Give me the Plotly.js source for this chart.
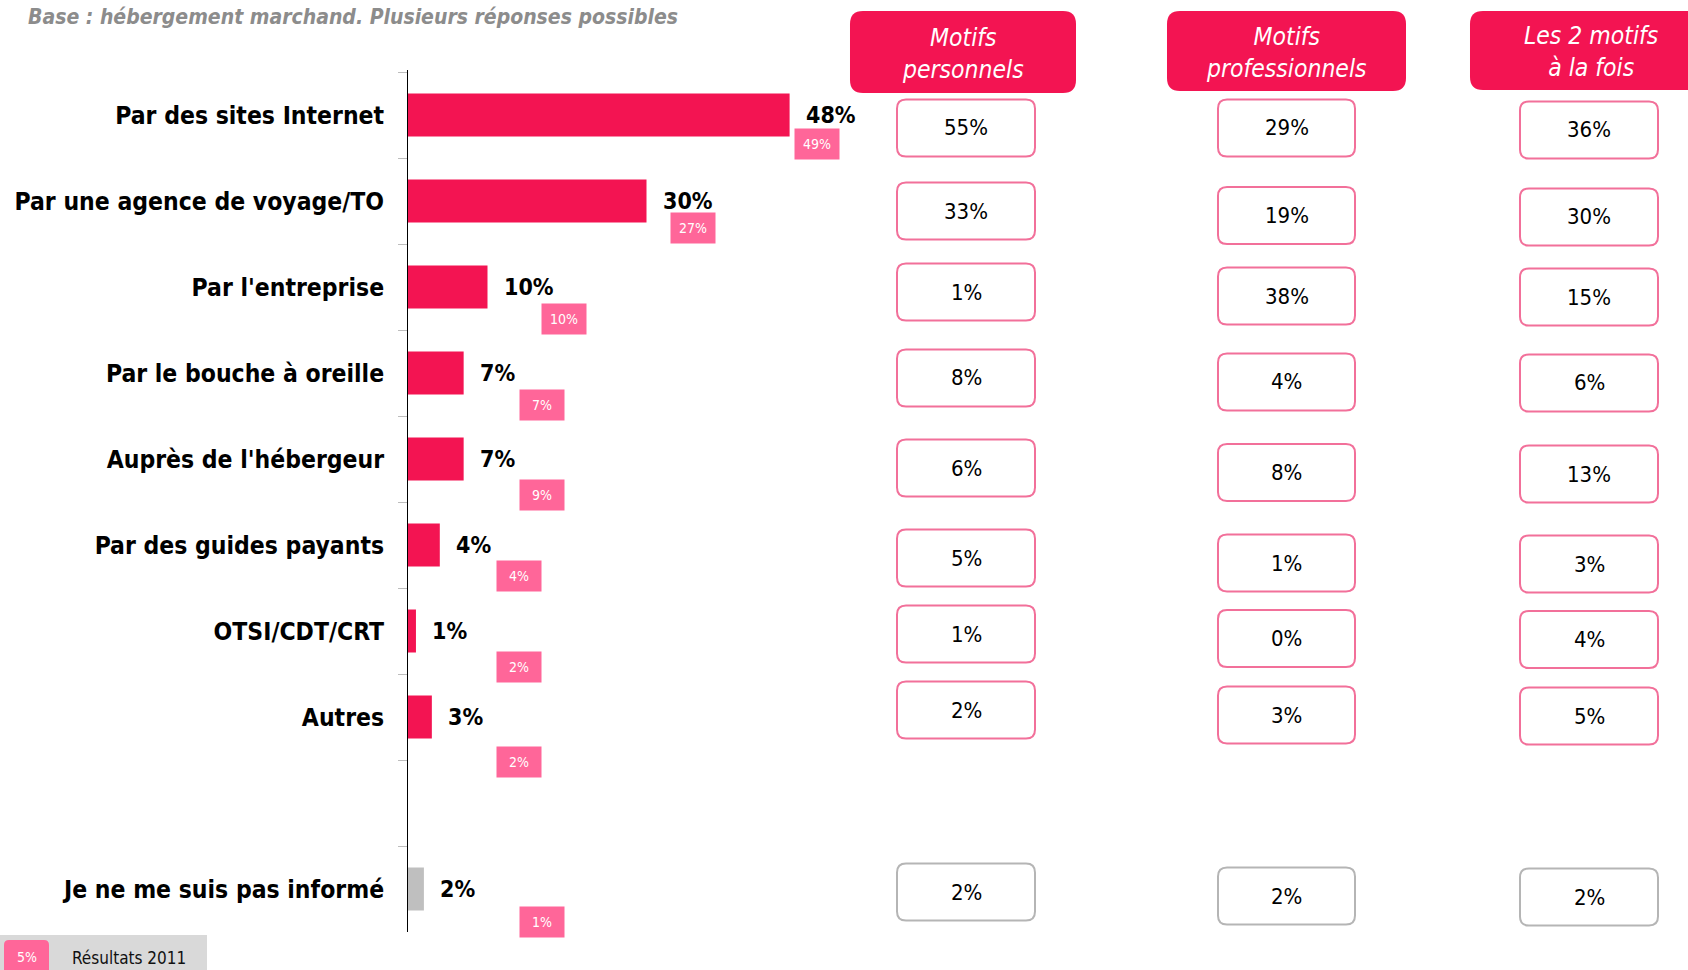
<!DOCTYPE html>
<html>
<head>
<meta charset="utf-8">
<script src="https://cdn.plot.ly/plotly-3.0.1.min.js"></script>
<style>html,body{margin:0;padding:0;background:#fff;}#chart{width:1688px;height:970px;}</style>
</head>
<body>
<div id="chart"></div>
<script>
// ---------------- DATA ----------------
const categories = [
  "Par des sites Internet",
  "Par une agence de voyage/TO",
  "Par l'entreprise",
  "Par le bouche à oreille",
  "Auprès de l'hébergeur",
  "Par des guides payants",
  "OTSI/CDT/CRT",
  "Autres",
  " ",
  "Je ne me suis pas informé"
];
const values2012 = [48, 30, 10, 7, 7, 4, 1, 3, null, 2];
const values2011 = [49, 27, 10, 7, 9, 4, 2, 2, null, 1];
const motifsPersonnels = [55, 33, 1, 8, 6, 5, 1, 2, null, 2];
const motifsProfessionnels = [29, 19, 38, 4, 8, 1, 0, 3, null, 2];
const motifsLesDeux = [36, 30, 15, 6, 13, 3, 4, 5, null, 2];
const columnHeaders = ["Motifs<br>personnels", "Motifs<br>professionnels", "Les 2 motifs<br>à la fois"];
const titleText = "Base : hébergement marchand. Plusieurs réponses possibles";
const legendSample = "5%";
const legendLabel = "Résultats 2011";

// ---------------- LAYOUT CONSTANTS (pixels) ----------------
const W = 1688, H = 970;
const px = x => x / W;
const py = y => 1 - y / H;
const FONT = "DejaVu Sans Condensed, DejaVu Sans, sans-serif";
const RED = "#F31452", PINK = "#FF6699", BOXPINK = "#F2709A", GRAY = "#B5B5B5";

// badge centre (x in % units of the bar axis, y shift in px below row centre)
const badgeX = [51.4, 35.8, 19.6, 16.9, 16.9, 14.0, 13.9, 13.9, null, 16.9];
const badgeDy = [29, 27, 32, 32, 36, 31, 36, 45, null, 33];
// table geometry
const colX = [[897, 1035], [1218, 1355], [1520, 1658]];
const headerX = [[850, 1076], [1167, 1406], [1470, 1712]];
const headerY = [[11, 93], [11, 91], [11, 90]];
const rowY = [
  [128, 211, 292, 378, 468, 558, 634, 710, null, 892],
  [128, 215.5, 296, 382, 472.5, 563, 638.5, 715, null, 896],
  [130, 217, 297, 383, 474, 564, 639.5, 716, null, 897]
];
const BOXH = 57;

function rr(x0, y0, x1, y1, r) {
  const X = v => px(v).toFixed(5), Y = v => py(v).toFixed(5);
  return `M${X(x0 + r)},${Y(y0)} L${X(x1 - r)},${Y(y0)} Q${X(x1)},${Y(y0)} ${X(x1)},${Y(y0 + r)} ` +
         `L${X(x1)},${Y(y1 - r)} Q${X(x1)},${Y(y1)} ${X(x1 - r)},${Y(y1)} ` +
         `L${X(x0 + r)},${Y(y1)} Q${X(x0)},${Y(y1)} ${X(x0)},${Y(y1 - r)} ` +
         `L${X(x0)},${Y(y0 + r)} Q${X(x0)},${Y(y0)} ${X(x0 + r)},${Y(y0)} Z`;
}

const shapes = [];
const annotations = [];

// title
annotations.push({
  xref: "paper", yref: "paper", x: px(26), y: py(17), xanchor: "left", yanchor: "middle",
  text: titleText, showarrow: false,
  font: { family: FONT, size: 21, weight: "bold", style: "italic", color: "#8C8C8C" }
});

// bar value labels + 2011 badges
categories.forEach((c, i) => {
  if (values2012[i] == null) return;
  annotations.push({
    xref: "x", yref: "y", x: values2012[i], y: c, xanchor: "left", yanchor: "middle",
    xshift: 14, text: values2012[i] + "%", showarrow: false,
    font: { family: FONT, size: 23, weight: "bold", color: "#000" }
  });
  annotations.push({
    xref: "x", yref: "y", x: badgeX[i], y: c, xanchor: "center", yanchor: "middle",
    yshift: -badgeDy[i], text: values2011[i] + "%", showarrow: false,
    width: 44, height: 30, bgcolor: PINK, borderpad: 0,
    font: { family: FONT, size: 14, color: "#fff" }
  });
});

// table
const tableCols = [motifsPersonnels, motifsProfessionnels, motifsLesDeux];
tableCols.forEach((vals, j) => {
  shapes.push({
    type: "path", xref: "paper", yref: "paper", path: rr(headerX[j][0], headerY[j][0], headerX[j][1], headerY[j][1], 13),
    fillcolor: RED, line: { width: 0 }
  });
  annotations.push({
    xref: "paper", yref: "paper", x: px((headerX[j][0] + headerX[j][1]) / 2), y: py((headerY[j][0] + headerY[j][1]) / 2 + 1),
    xanchor: "center", yanchor: "middle", text: columnHeaders[j], showarrow: false,
    font: { family: FONT, size: 24.5, style: "italic", color: "#fff" }
  });
  vals.forEach((v, i) => {
    if (v == null) return;
    const cy = rowY[j][i];
    const last = i === vals.length - 1;
    shapes.push({
      type: "path", xref: "paper", yref: "paper",
      path: rr(colX[j][0], cy - BOXH / 2, colX[j][1], cy + BOXH / 2, 9),
      fillcolor: "#fff", line: { color: last ? GRAY : BOXPINK, width: 2 }
    });
    annotations.push({
      xref: "paper", yref: "paper", x: px((colX[j][0] + colX[j][1]) / 2), y: py(cy),
      xanchor: "center", yanchor: "middle", text: v + "%", showarrow: false,
      font: { family: FONT, size: 22, color: "#000" }
    });
  });
});

// legend box
shapes.push({ type: "rect", xref: "paper", yref: "paper", x0: 0, x1: px(207), y0: 0, y1: py(935), fillcolor: "#D9D9D9", line: { width: 0 }, layer: "below" });
shapes.push({ type: "path", xref: "paper", yref: "paper", path: rr(4, 940, 49, 980, 5), fillcolor: PINK, line: { width: 0 } });
annotations.push({ xref: "paper", yref: "paper", x: px(27), y: py(957), xanchor: "center", yanchor: "middle", text: legendSample, showarrow: false, font: { family: FONT, size: 14, color: "#fff" } });
annotations.push({ xref: "paper", yref: "paper", x: px(70), y: py(958), xanchor: "left", yanchor: "middle", text: legendLabel, showarrow: false, font: { family: FONT, size: 17, color: "#111" } });

const trace = {
  type: "bar", orientation: "h",
  y: categories, x: values2012,
  width: 0.5,
  marker: { color: categories.map((c, i) => i === categories.length - 1 ? "#BFBFBF" : RED) },
  hoverinfo: "skip"
};

const layout = {
  width: W, height: H,
  margin: { l: 0, r: 0, t: 0, b: 0, pad: 0 },
  paper_bgcolor: "#fff", plot_bgcolor: "rgba(0,0,0,0)",
  showlegend: false,
  xaxis: { domain: [px(408), px(1203)], range: [0, 100], showgrid: false, zeroline: false, showline: false, showticklabels: false, ticks: "", fixedrange: true },
  yaxis: {
    domain: [py(932), py(70)], type: "category", categoryarray: categories, categoryorder: "array",
    autorange: "reversed", showgrid: false, zeroline: false,
    showline: true, linecolor: "#000", linewidth: 1,
    ticks: "outside", ticklen: 9, tickcolor: "#BDBDBD", tickwidth: 1, tickson: "boundaries",
    ticklabelstandoff: 18,
    tickfont: { family: FONT, size: 24.5, weight: "bold", color: "#000" }
  },
  shapes: shapes,
  annotations: annotations
};

Plotly.newPlot("chart", [trace], layout, { staticPlot: true, displayModeBar: false });
</script>
</body>
</html>
